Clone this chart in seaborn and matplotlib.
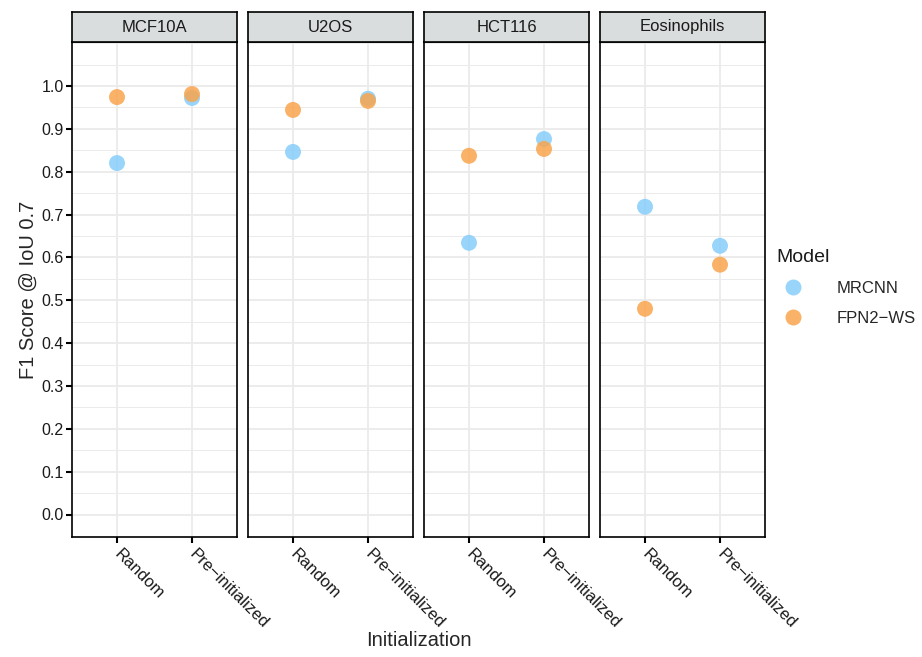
import matplotlib
matplotlib.use("Agg")
import matplotlib.pyplot as plt
import seaborn as sns
import pandas as pd
import numpy as np
from matplotlib.lines import Line2D

sns.set_theme(style="white")
plt.rcParams['font.family'] = ['Liberation Sans', 'DejaVu Sans']

cells = ["MCF10A", "U2OS", "HCT116", "Eosinophils"]
inits = ["Random", "Pre\u2212initialized"]
models = ["MRCNN", "FPN2\u2212WS"]
mrcnn_random = [0.820, 0.846, 0.634, 0.718]
mrcnn_pre = [0.972, 0.970, 0.876, 0.627]
fpn_random = [0.974, 0.944, 0.837, 0.480]
fpn_pre = [0.981, 0.965, 0.853, 0.583]
y_ticks = [0.0, 0.1, 0.2, 0.3, 0.4, 0.5, 0.6, 0.7, 0.8, 0.9, 1.0]

rows = []
for i, c in enumerate(cells):
    rows.append((c, inits[0], models[0], mrcnn_random[i]))
    rows.append((c, inits[1], models[0], mrcnn_pre[i]))
    rows.append((c, inits[0], models[1], fpn_random[i]))
    rows.append((c, inits[1], models[1], fpn_pre[i]))
df = pd.DataFrame(rows, columns=["Cell", "Initialization", "Model", "F1"])

palette = {models[0]: "#87CEFA", models[1]: "#F8A54C"}

W, H = 922, 657
fig = plt.figure(figsize=(W / 100, H / 100), dpi=100)

left0 = 72
pw = 165
gap = 11
top_px = 42
bot_px = 537
strip_top = 12

for i, c in enumerate(cells):
    x0 = left0 + i * (pw + gap)
    ax = fig.add_axes([x0 / W, 1 - bot_px / H, pw / W, (bot_px - top_px) / H])
    sub = df[df.Cell == c]
    for yv in np.arange(0, 1.101, 0.05):
        major = abs(round(yv * 20) % 2) == 0
        ax.axhline(yv, color="#EBEBEB", lw=1.3 if major else 0.7, zorder=0)
    for xv in [0, 1]:
        ax.axvline(xv, color="#EBEBEB", lw=1.3, zorder=0)
    sns.stripplot(data=sub, x="Initialization", y="F1", hue="Model", order=inits,
                  hue_order=models, palette=palette, jitter=False, dodge=False,
                  size=11.5, alpha=0.85, linewidth=0, ax=ax, legend=False, zorder=3)
    ax.set_xlim(-0.6, 1.6)
    ax.set_ylim(-0.0525, 1.1025)
    ax.set_yticks(y_ticks)
    if i == 0:
        ax.set_yticklabels([f"{v:.1f}" for v in y_ticks], fontsize=11.5, color="#1A1A1A")
        ax.tick_params(axis="y", length=4, width=1.5, color="black", left=True, pad=2)
    else:
        ax.set_yticklabels([])
        ax.tick_params(axis="y", length=0)
    ax.set_xticks([0, 1])
    ax.set_xticklabels(inits, rotation=-45, ha="left", va="center",
                       rotation_mode="anchor", fontsize=12, color="#1A1A1A")
    ax.tick_params(axis="x", length=4, width=1.5, color="black", bottom=True, pad=7)
    ax.set_xlabel("")
    ax.set_ylabel("")
    for s in ax.spines.values():
        s.set_color("black")
        s.set_linewidth(1.2)
    sax = fig.add_axes([x0 / W, 1 - top_px / H, pw / W, (top_px - strip_top) / H])
    sax.set_facecolor("#D9DDDD")
    sax.set_xticks([])
    sax.set_yticks([])
    for s in sax.spines.values():
        s.set_color("black")
        s.set_linewidth(1.2)
    sax.text(0.5, 0.5, c, ha="center", va="center", fontsize=12,
             color="#1A1A1A", transform=sax.transAxes)

fig.text((left0 + (4 * pw + 3 * gap) / 2) / W, 1 - 640 / H, "Initialization",
         ha="center", va="center", fontsize=14.5)
fig.text(28 / W, 1 - ((top_px + bot_px) / 2) / H, "F1 Score @ IoU 0.7",
         ha="center", va="center", rotation=90, fontsize=14.5)

handles = [Line2D([0], [0], marker="o", ls="", markersize=11.5, alpha=0.85,
                  markerfacecolor=palette[m], markeredgewidth=0) for m in models]
leg = fig.legend(handles, models, title="Model", loc="upper left",
                 bbox_to_anchor=(770 / W, 1 - 242 / H), frameon=False,
                 fontsize=12, title_fontsize=14, handletextpad=1.6,
                 labelspacing=0.9, borderaxespad=0, handlelength=2.0)
leg._legend_box.align = "left"
leg.get_title().set_color("#1A1A1A")

fig.savefig("out.png", dpi=100)
